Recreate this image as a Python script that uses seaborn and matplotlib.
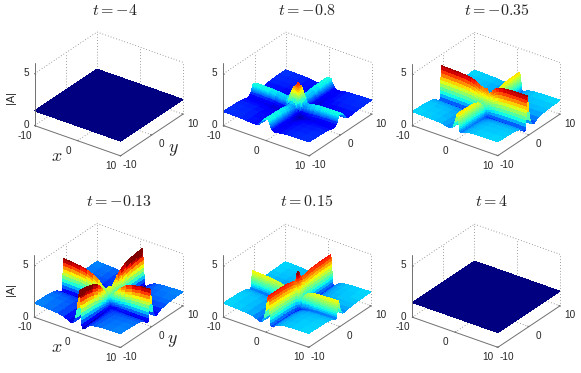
import numpy as np
import matplotlib
matplotlib.use("Agg")
import matplotlib.pyplot as plt
import seaborn as sns
from mpl_toolkits.mplot3d import proj3d

# Surface heights are an approximation: each panel is composed from profiles
# (ridge height, across-ridge shape, along-ridge scale).
W, H = 581, 373

titles = [r"$t=-4$", r"$t=-0.8$", r"$t=-0.35$", r"$t=-0.13$", r"$t=0.15$", r"$t=4$"]
title_dx = [80.5, 84, 85, 85, 83, 79]

x_ticks = [-10, 0, 10]
y_ticks = [-10, 0, 10]
z_ticks = [0, 5]

y_nodes = [-10, -8, -6, -4.5, -3.5, -2.8, -2.2, -1.8, -1.4, -1.1, -1.05, -1, -.95, -.9, -.85, -.8,
           -.75, -.7, -.65, -.6, -.5, -.3, 0, .4, .9, 1.5, 2, 3, 4.5, 6, 8, 10]
x_nodes = [-10, -8, -6, -4.5, -3, -2, -1.5, -.9, -.4, 0, .3, .5, .6, .65, .7, .75,
           .8, .85, .9, .95, 1, 1.05, 1.1, 1.4, 1.8, 2.2, 2.8, 3.5, 4.5, 6, 8, 10]
flat_nodes = [-10, 0, 10]

# across-ridge shape, on y_nodes (mirrored for the ridge that runs along y)
cross_sharp = [0, -.01, -.02, -.04, -.07, -.11, -.17, -.24, -.28, -.25, -.12, 0, .12, .25, .38, .5,
               .62, .75, .87, 1, .98, .75, .35, 0, -.18, -.22, -.18, -.1, -.05, -.03, -.01, 0]
cross_soft = [0, -.02, -.05, -.1, -.18, -.27, -.33, -.3, -.12, .12, .17, .23, .3, .37, .45, .53,
              .62, .7, .8, .92, 1, 1, 1, .95, .6, .1, -.15, -.2, -.1, -.04, -.01, 0]

# along-ridge scale, on x_nodes (reversed for the ridge that runs along y)
along_t2 = [1, 1, 1, 1, 1, 1, 1, 1, 1.03, 1.15, 1.45, 1.7, 1.88, 1.9, 1.88, 1.8,
            1.7, 1.6, 1.5, 1.42, 1.35, 1.28, 1.22, 1.1, 1.02, 1, 1, 1, 1, 1, 1, 1]
along_t3_a = [1, 1, .99, .98, .95, .91, .87, .8, .72, .62, .58, .56, .55, .55, .56, .56,
              .57, .57, .58, .58, .59, .6, .6, .65, .72, .8, .88, .94, .97, .99, 1, 1]
along_t3_b = [1, 1, .99, .97, .92, .84, .76, .64, .52, .42, .37, .34, .33, .33, .34, .34,
              .35, .35, .36, .36, .37, .38, .38, .45, .55, .65, .78, .88, .95, .98, 1, 1]
along_t4 = [1, .98, .94, .88, .78, .68, .6, .48, .38, .31, .27, .25, .24, .24, .24, .25,
            .25, .25, .26, .26, .27, .27, .28, .33, .4, .47, .56, .68, .8, .9, .97, 1]
along_t5_a = [1, 1, .99, .97, .92, .86, .8, .7, .6, .55, .54, .54, .55, .55, .56, .56,
              .57, .57, .58, .58, .59, .6, .6, .66, .72, .8, .88, .94, .98, 1, 1, 1]
along_t5_b = [1, 1, 1, .99, .98, .96, .95, .93, .92, .92, .92, .92, .92, .92, .92, .92,
              .92, .92, .92, .93, .93, .93, .93, .94, .95, .96, .97, .98, .99, 1, 1, 1]

base_height = [1.42, 1.35, 1.35, 1.35, 1.35, 1.42]
ridge_a_height = [0, .7, 2.55, 2.4, 1.25, 0]
ridge_b_height = [0, .7, 1.35, 2.8, 2.25, 0]
clim_low = [1.42, .75, 0, .5, 0, 1.42]
clim_high = [12, 4.2, 4, 3.75, 4, 12]

floor_left = [(34.5, 126.7), (223.3, 126.7), (412.3, 126.7), (34.3, 318), (223.3, 318), (412.3, 318)]
floor_right = [(183, 113), (371.7, 113), (560, 113), (183, 305), (371, 305), (560, 305)]

sns.set_theme(style="white")
plt.rcParams["font.family"] = ["Liberation Sans", "DejaVu Sans"]
plt.rcParams["mathtext.fontset"] = "cm"
jet = matplotlib.colormaps["jet"]

fig = plt.figure(figsize=(W / 100, H / 100), dpi=100)


def screen(ax, x, y, z):
    a, b, _ = proj3d.proj_transform(x, y, z, ax.get_proj())
    p = ax.transData.transform((a, b))
    return p[0], H - p[1]


def set_box(ax, cx, cy, s):
    ax.set_position([(cx - s / 2) / W, 1 - (cy + s / 2) / H, s / W, s / H])
    ax.apply_aspect()


def place(ax, left, right):
    cx, cy, s = (left[0] + right[0]) / 2, (left[1] + right[1]) / 2 - 20, 150.0
    for _ in range(4):
        set_box(ax, cx, cy, s)
        a = screen(ax, -10, -10, 0)
        b = screen(ax, 10, 10, 0)
        s *= (right[0] - left[0]) / (b[0] - a[0])
        set_box(ax, cx, cy, s)
        a = screen(ax, -10, -10, 0)
        b = screen(ax, 10, 10, 0)
        cx += (left[0] + right[0]) / 2 - (a[0] + b[0]) / 2
        cy += (left[1] + right[1]) / 2 - (a[1] + b[1]) / 2
    set_box(ax, cx, cy, s)


def surface(i):
    if i in (0, 5):
        xn, yn = np.array(flat_nodes), np.array(flat_nodes)
        return xn, yn, np.full((3, 3), base_height[i])
    cross = cross_soft if i == 1 else cross_sharp
    along = {1: (along_t2, along_t2), 2: (along_t3_a, along_t3_b), 3: (along_t4, along_t4),
             4: (along_t5_a, along_t5_b)}[i]
    xn, yn = np.array(x_nodes), np.array(y_nodes)
    ridge_a = ridge_a_height[i] * np.outer(np.array(cross), np.array(along[0]))
    ridge_b = ridge_b_height[i] * np.outer(np.array(along[1])[::-1], np.array(cross)[::-1])
    return xn, yn, base_height[i] + ridge_a + ridge_b


GRID = dict(color="#666666", lw=0.55, ls=(0, (1, 2.8)), zorder=1)
AXIS = dict(color="#707070", lw=0.7, zorder=5)

for i in range(6):
    ax = fig.add_subplot(2, 3, i + 1, projection="3d", proj_type="ortho")
    ax.computed_zorder = False
    ax.set_axis_off()
    xn, yn, zz = surface(i)
    X, Y = np.meshgrid(xn, yn)
    ax.plot_surface(X, Y, zz, cmap=jet, vmin=clim_low[i], vmax=clim_high[i], rstride=1, cstride=1,
                    linewidth=0, antialiased=False, zorder=2)
    ax.set_xlim(-10, 10)
    ax.set_ylim(-10, 10)
    ax.set_zlim(0, 6)
    ax.set_box_aspect((1, 1, 0.669))
    ax.view_init(elev=29, azim=-54)
    place(ax, floor_left[i], floor_right[i])

    zt = z_ticks[-1]
    for a, b in [((-10, -10, zt), (-10, 10, zt)), ((-10, 10, zt), (10, 10, zt)),
                 ((-10, 10, 0), (-10, 10, zt)), ((10, 10, 0), (10, 10, zt)),
                 ((0, 10, 0), (0, 10, zt)), ((-10, 0, 0), (-10, 0, zt)),
                 ((-10, -10, 0), (-10, 10, 0)), ((-10, 10, 0), (10, 10, 0)),
                 ((0, -10, 0), (0, 10, 0)), ((-10, 0, 0), (10, 0, 0))]:
        ax.plot(*zip(a, b), **GRID)
    ax.plot([-10, 10], [-10, -10], [0, 0], **AXIS)
    ax.plot([10, 10], [-10, 10], [0, 0], **AXIS)
    ax.plot([-10, -10], [-10, -10], [0, 6], **AXIS)
    for t in x_ticks:
        ax.plot([t, t], [-10, -9.7], [0, 0], **AXIS)
    for t in y_ticks:
        ax.plot([10, 9.7], [t, t], [0, 0], **AXIS)
    for t in z_ticks:
        ax.plot([-10, -9.7], [-10, -10], [t, t], **AXIS)

    def label(px, py, s, **kw):
        fig.text(px / W, 1 - py / H, s, ha="center", va="center", color="#262626", **kw)

    for t in x_ticks:
        p = screen(ax, t, -10, 0)
        label(p[0] - 9.5, p[1] + 10, str(t), fontsize=7.2)
    for t in y_ticks:
        p = screen(ax, 10, t, 0)
        label(p[0] + 9.5, p[1] + 9.5, str(t), fontsize=7.2)
    for t in z_ticks:
        p = screen(ax, -10, -10, t)
        label(p[0] - 8.5, p[1] - 0.5, str(t), fontsize=7.2)
    left = floor_left[i]
    label(left[0] + title_dx[i], left[1] - 116, titles[i], fontsize=11.5)
    if i in (0, 3):
        label(left[0] - 23.5, left[1] - 29, "|A|", fontsize=7.8, rotation=90)
        label(left[0] + 22.5, left[1] + 29.5, r"$x$", fontsize=13)
        label(left[0] + 138.5, left[1] + 22.5, r"$y$", fontsize=13)

fig.savefig("out.png", dpi=100)
